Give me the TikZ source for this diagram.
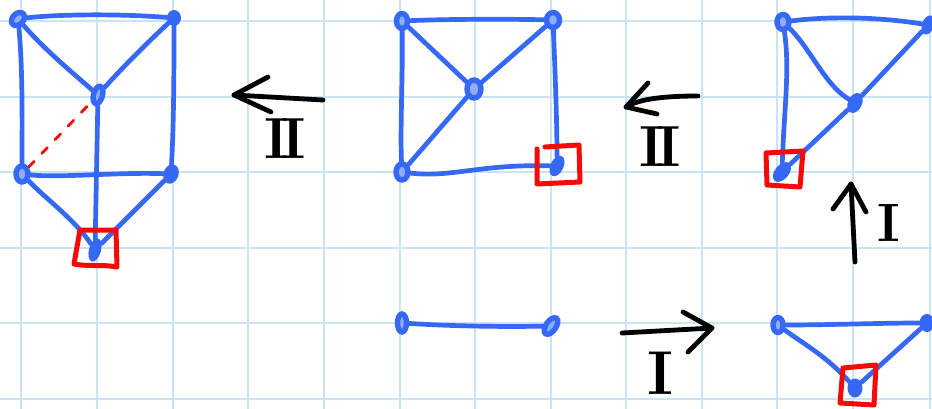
\documentclass[tikz,border=0pt]{standalone}
\usetikzlibrary{shapes.geometric}
\definecolor{gridblue}{HTML}{C9E5F5}
\definecolor{penblue}{HTML}{3568F5}
\definecolor{penred}{HTML}{F50A0A}
\tikzset{
  edge/.style={draw=penblue,line width=4.7pt,line cap=round,line join=round},
  ring/.style={ellipse,draw=penblue,fill=penblue!55,line width=5.4pt,inner sep=0pt,minimum width=#1,minimum height=15pt},
  ring/.default=12pt,
  solid dot/.style={ellipse,fill=penblue,inner sep=0pt,minimum width=#1,minimum height=21pt},
  solid dot/.default=15pt,
  redbox/.style={draw=penred,line width=5pt,line cap=round,line join=round},
  reddash/.style={draw=penred,line width=2.8pt,line cap=round,dash pattern=on 8pt off 11pt},
  penarrow/.style={draw=black,line width=4.8pt,line cap=round,line join=round},
  roman/.style={inner sep=0pt,font=\fontsize{#1}{#1}\selectfont\bfseries}
}
\begin{document}
\begin{tikzpicture}[x=1pt,y=-1pt]
\useasboundingbox (0,0) rectangle (932,409);
\fill[white] (0,0) rectangle (932,409);
\foreach \gx in {21,97,173,248,324,400,475,551,626,702,777,853,930}
  \draw[gridblue,line width=2pt] (\gx,0) -- (\gx,409);
\foreach \gy in {21,97,172,248,323,399}
  \draw[gridblue,line width=2pt] (0,\gy) -- (932,\gy);

% left graph
\node[ring=11pt,rotate=-45] (a1) at (18,19) {};
\node[solid dot=14pt,minimum height=16pt] (a2) at (174,18) {};
\node[ring=9pt,minimum height=18pt,rotate=-15] (a3) at (98,95) {};
\node[ring=12pt,minimum height=16pt] (a4) at (22,174) {};
\node[solid dot=15pt,rotate=-20,minimum height=20pt] (a5) at (171,174) {};
\node[solid dot=12pt,rotate=-15,minimum height=24pt] (a6) at (95,250) {};
\draw[edge] (a1) .. controls (50,15) and (110,13) .. (a2);
\draw[edge] (a1) .. controls (23,70) and (22,130) .. (a4);
\draw[edge] (a2) .. controls (174,60) and (174,120) .. (a5);
\draw[edge] (a1) .. controls (45,50) and (75,75) .. (a3);
\draw[edge] (a2) .. controls (150,40) and (120,70) .. (a3);
\draw[edge] (a3) -- (a6);
\draw[edge] (a4) .. controls (60,178) and (120,172) .. (a5);
\draw[edge] (a4) .. controls (45,198) and (75,220) .. (a6);
\draw[edge] (a5) -- (a6);
\draw[reddash] (a4) -- (a3);
\draw[redbox] (80,230) -- (116,230) -- (117,267) .. controls (100,264) and (90,267) .. (74,264) -- cycle;

% middle graph
\node[ring=11pt] (b1) at (402,21) {};
\node[ring=13pt,minimum height=15pt] (b2) at (553,20) {};
\node[ring=14pt,minimum height=18pt] (b3) at (474,89) {};
\node[ring=12pt,minimum height=16pt] (b4) at (402,172) {};
\node[solid dot=13pt,rotate=-25,minimum height=22pt] (b5) at (557,166) {};
\draw[edge] (b1) .. controls (450,19) and (510,19) .. (b2);
\draw[edge] (b1) .. controls (403,70) and (400,130) .. (b4);
\draw[edge] (b2) .. controls (555,70) and (557,120) .. (b5);
\draw[edge] (b1) -- (b3);
\draw[edge] (b2) -- (b3);
\draw[edge] (b3) -- (b4);
\draw[edge] (b4) .. controls (450,178) and (480,164) .. (b5);
\draw[redbox] (545,147) -- (579,145) -- (580,182) -- (537,184) -- (537,149);

% right graph
\node[ring=12pt] (c1) at (783,22) {};
\node[solid dot=12pt,minimum height=20pt,rotate=-20] (c2) at (928,25) {};
\node[solid dot=14pt,rotate=-25] (c3) at (855,103) {};
\node[solid dot=14pt,rotate=-40,minimum height=23pt] (c4) at (782,172) {};
\draw[edge] (c1) .. controls (830,16) and (880,17) .. (c2);
\draw[edge] (c1) .. controls (790,70) and (784,110) .. (c4);
\draw[edge] (c1) .. controls (810,48) and (825,85) .. (c3);
\draw[edge] (c2) -- (c3);
\draw[edge] (c3) -- (c4);
\draw[redbox] (766,153) -- (803,151) -- (800,187) -- (767,185) -- cycle;

% lower graphs
\node[ring=9pt,minimum height=18pt] (b6) at (402,323) {};
\node[ring=10pt,minimum height=19pt,rotate=-35] (b7) at (551,326) {};
\draw[edge] (b6) .. controls (450,326) and (500,327) .. (b7);
\node[ring=10pt] (d1) at (778,325) {};
\node[solid dot=15pt,minimum height=18pt] (d2) at (927,323) {};
\node[solid dot=15pt,minimum height=19pt] (d3) at (855,388) {};
\draw[edge] (d1) .. controls (830,325) and (880,323) .. (d2);
\draw[edge] (d1) .. controls (805,345) and (825,355) .. (d3);
\draw[edge] (d2) -- (d3);
\draw[redbox] (843,368) -- (876,365) -- (874,405) -- (840,403) -- cycle;

% arrows
\coordinate (m1s) at (323,100);
\coordinate (m1t) at (234,95);
\draw[penarrow] (m1s) -- (m1t);
\draw[penarrow] (268,77) -- (m1t) -- (271,112);
\coordinate (m2s) at (698,96);
\coordinate (m2t) at (626,107);
\draw[penarrow] (m2s) .. controls (670,96) and (640,98) .. (m2t);
\draw[penarrow] (648,83) -- (m2t) -- (657,114);
\coordinate (m3s) at (855,262);
\coordinate (m3t) at (851,184);
\draw[penarrow] (m3s) -- (m3t);
\draw[penarrow] (833,209) -- (m3t) -- (866,212);
\coordinate (m4s) at (622,333);
\coordinate (m4t) at (712,328);
\draw[penarrow] (m4s) -- (m4t);
\draw[penarrow] (683,312) -- (m4t) -- (688,352);

% labels
\node[roman=58] (l1) at (285,139) {I\kern-7pt I};
\node[roman=58] (l2) at (660,147) {I\kern-7pt I};
\node[roman=54] (l3) at (889,223) {I};
\node[roman=62] (l4) at (660,373) {I};
\end{tikzpicture}
\end{document}
